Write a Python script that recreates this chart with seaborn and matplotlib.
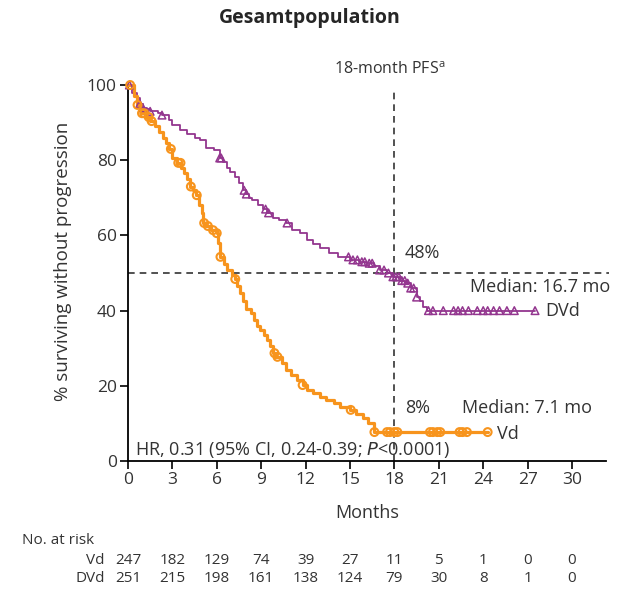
#%% libraries
import numpy as np
import pandas as pd
import matplotlib
matplotlib.use("Agg")
import matplotlib.pyplot as plt
import matplotlib.transforms as mtransforms
import seaborn as sns

#%% data (months, % progression free)
vd_t = [0, 0.4, 0.6, 0.9, 1.2, 1.5, 1.8, 2.1, 2.4, 2.6, 2.8, 3.0, 3.3, 3.6, 3.8, 4.0,
        4.2, 4.4, 4.6, 4.8, 5.0, 5.1, 5.3, 5.6, 6.0, 6.1, 6.2, 6.5, 6.7, 7.0, 7.2, 7.4,
        7.6, 7.8, 8.0, 8.3, 8.5, 8.7, 8.9, 9.2, 9.4, 9.6, 9.8, 9.95, 10.4, 10.7, 11.0,
        11.4, 11.8, 12.1, 12.5, 13.0, 13.4, 13.9, 14.3, 15.0, 15.4, 15.9, 16.2, 16.6, 24.3]
vd_s = [100, 97, 94.7, 92.5, 91.5, 90.4, 89, 87.5, 86, 84.5, 83, 80.6, 79.3, 78, 76.5, 75,
        73, 72, 70.7, 68, 66, 63.3, 62.5, 61.4, 60.6, 58, 54.3, 52.5, 50.8, 49.5, 48.4, 46.5,
        44.7, 42.5, 40.5, 39.4, 37.5, 36, 34.8, 33.5, 32.2, 30.5, 28.7, 27.7, 26, 24.2, 23,
        21.5, 20.2, 19, 18, 17, 16.2, 15.3, 14.4, 13.6, 12.5, 11.4, 10, 7.7, 7.7]
vd_cens = [0.15, 0.65, 0.95, 1.1, 1.4, 1.6, 2.9, 3.4, 3.55, 4.25, 4.65, 5.15, 5.4, 5.75,
           6.0, 6.25, 7.25, 9.9, 10.1, 11.8, 15.05, 16.65, 17.5, 17.7, 18.0, 18.2,
           20.4, 20.6, 20.9, 21.1, 22.4, 22.6, 22.9, 24.3]

dvd_t = [0, 0.3, 0.6, 0.8, 1.0, 1.3, 1.5, 2.0, 2.3, 2.8, 3.0, 3.5, 4.0, 4.5, 4.9, 5.3,
         5.8, 6.2, 6.4, 6.7, 6.9, 7.2, 7.5, 7.8, 8.0, 8.2, 8.4, 8.8, 9.1, 9.4, 9.8, 10.2,
         10.7, 11.1, 11.6, 12.1, 12.5, 13.0, 13.6, 14.2, 15.0, 15.6, 16.1, 16.6, 17.0,
         17.5, 17.9, 18.4, 18.8, 19.1, 19.5, 19.7, 19.9, 20.2, 27.5]
dvd_s = [100, 98, 96.5, 95, 94, 93.5, 93, 92.5, 92, 90.7, 89.4, 88, 87, 86, 85.4, 83.2,
         82.7, 80.6, 79.5, 78, 77, 75.5, 74, 72, 71, 70, 69.4, 68, 67, 66, 64.6, 64,
         63.3, 61.4, 60.6, 58.8, 57.8, 56.6, 55.3, 54.3, 53.5, 53, 52.6, 51.8, 50.8,
         50, 49, 48, 47.3, 46, 43.6, 42.5, 41, 40, 40]
dvd_cens = [0.1, 0.8, 1.0, 1.5, 2.3, 6.2, 6.3, 7.85, 8.0, 9.3, 9.5, 10.75, 14.9, 15.2,
            15.5, 15.8, 16.0, 16.3, 16.5, 17.0, 17.3, 17.6, 17.9, 18.1, 18.3, 18.5, 18.7,
            18.9, 19.1, 19.3, 19.5, 20.3, 20.6, 21.3, 22.0, 22.3, 22.6, 23.0, 23.6, 24.0,
            24.3, 24.7, 25.1, 25.6, 26.1, 27.5]

months = [0, 3, 6, 9, 12, 15, 18, 21, 24, 27, 30]
risk_vd = [247, 182, 129, 74, 39, 27, 11, 5, 1, 0, 0]
risk_dvd = [251, 215, 198, 161, 138, 124, 79, 30, 8, 1, 0]

orange = '#F7941D'
purple = '#93368F'
txt_col = '#333333'


def km_at(t, s, x):
    # value of the step curve at time x
    i = np.searchsorted(t, x, side='right') - 1
    return np.asarray(s)[i]


#%% plot
sns.set_style('ticks')
plt.rcParams['font.family'] = ['Open Sans', 'DejaVu Sans']

fig = plt.figure(figsize=(6.21, 5.9), dpi=100)
ax = fig.add_axes([0.206, 0.2186, 0.770, 0.6373])

df_vd = pd.DataFrame({'t': vd_t, 's': vd_s})
df_dvd = pd.DataFrame({'t': dvd_t, 's': dvd_s})

sns.lineplot(data=df_dvd, x='t', y='s', estimator=None, sort=False, color=purple,
             lw=1.3, drawstyle='steps-post', ax=ax, clip_on=False, zorder=3)
sns.lineplot(data=df_vd, x='t', y='s', estimator=None, sort=False, color=orange,
             lw=2.3, drawstyle='steps-post', ax=ax, clip_on=False, zorder=4)

sns.scatterplot(x=dvd_cens, y=km_at(dvd_t, dvd_s, dvd_cens), marker='^', s=30,
                facecolor='none', edgecolor=purple, linewidth=1.1, ax=ax,
                clip_on=False, zorder=5)
sns.scatterplot(x=vd_cens, y=km_at(vd_t, vd_s, vd_cens), marker='o', s=32,
                facecolor='none', edgecolor=orange, linewidth=1.5, ax=ax,
                clip_on=False, zorder=6)

# reference lines
ax.plot([0, 32.5], [50, 50], ls=(0, (4, 3)), color=txt_col, lw=1.2, clip_on=False, zorder=2)
ax.plot([18, 18], [0, 98.7], ls=(0, (4, 3)), color=txt_col, lw=1.2, clip_on=False, zorder=2)

ax.set_xlim(0, 32.3)
ax.set_ylim(0, 100)
ax.set_xticks(months)
ax.set_yticks([0, 20, 40, 60, 80, 100])
ax.tick_params(direction='out', length=6, width=1.2, labelsize=12.5, colors='black',
               labelcolor=txt_col, pad=2)
for side in ['left', 'bottom']:
    ax.spines[side].set_linewidth(1.3)
    ax.spines[side].set_color('black')
sns.despine(ax=ax)

ax.set_xlabel('Months', fontsize=13, color=txt_col)
ax.xaxis.set_label_coords(0.5, -0.115)
ax.set_ylabel('% surviving without progression', fontsize=13.5, color=txt_col)
ax.yaxis.set_label_coords(-0.118, 0.53)

# annotations
kw = dict(fontsize=13, color=txt_col, clip_on=False)
ax.text(17.7, 104, '18-month PFS$^{\\mathregular{a}}$', ha='center', va='center',
        fontsize=11.5, color=txt_col)
ax.text(18.7, 55.3, '48%', ha='left', va='center', **kw)
ax.text(32.6, 46.3, 'Median: 16.7 mo', ha='right', va='center', **kw)
ax.text(28.2, 39.9, 'DVd', ha='left', va='center', **kw)
ax.text(18.7, 14.2, '8%', ha='left', va='center', **kw)
ax.text(22.6, 14.2, 'Median: 7.1 mo', ha='left', va='center', **kw)
ax.text(24.9, 7.3, 'Vd', ha='left', va='center', **kw)
ax.text(0.45, 2.9, 'HR, 0.31 (95% CI, 0.24-0.39; $\\mathit{P}$<0.0001)', ha='left',
        va='center', fontsize=13, color=txt_col)

# number at risk table
trans = mtransforms.blended_transform_factory(ax.transData, fig.transFigure)
fig.text(22 / 621, 1 - 541 / 590, 'No. at risk', ha='left', va='center', fontsize=11,
         color=txt_col)
for label, vals, ypx in [('Vd', risk_vd, 561), ('DVd', risk_dvd, 579)]:
    y = 1 - ypx / 590
    ax.text(-1.55, y, label, transform=trans, ha='right', va='center', fontsize=11,
            color=txt_col)
    for m, v in zip(months, vals):
        ax.text(m, y, str(v), transform=trans, ha='center', va='center', fontsize=11,
                color=txt_col)

fig.text(0.498, 1 - 18 / 590, 'Gesamtpopulation', ha='center', va='center',
         fontsize=14, fontweight='bold', family=['Open Sans', 'DejaVu Sans'])

fig.savefig('out.png', dpi=100)
